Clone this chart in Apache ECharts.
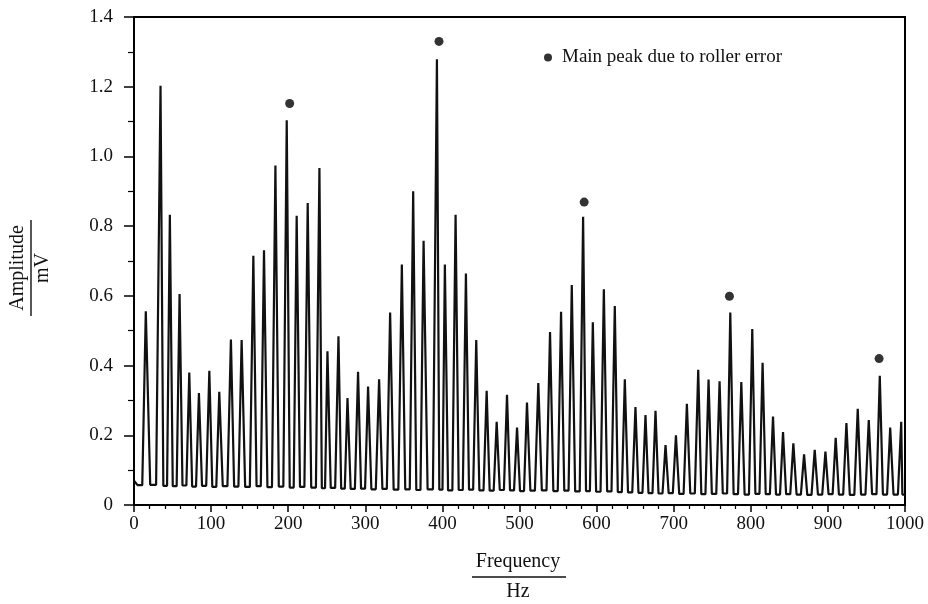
<!DOCTYPE html>
<html>
<head>
<meta charset="utf-8">
<title>Amplitude spectrum</title>
<script src="https://cdn.jsdelivr.net/npm/echarts@6/dist/echarts.min.js"></script>
<style>
  html, body { margin: 0; padding: 0; background: #fff; }
  #chart { width: 928px; height: 604px; }
</style>
</head>
<body>
<div id="chart"></div>
<script>
// Spectral peaks: frequency (Hz) and amplitude (mV)
const peakFreq = [15.3, 34.4, 46.5, 59.1, 71.7, 84.2, 97.7, 110.6, 125.7, 139.6,
  154.8, 168.6, 183.4, 198.1, 211.0, 225.3, 240.5, 250.9, 265.2, 276.9,
  290.6, 303.6, 317.9, 332.2, 347.4, 362.1, 375.6, 392.9, 403.2, 417.1,
  430.5, 443.9, 457.4, 470.4, 483.8, 496.8, 509.7, 524.4, 539.6, 553.9,
  567.8, 582.5, 595.1, 609.4, 623.6, 636.6, 650.4, 663.4, 676.4, 689.4,
  702.9, 717.1, 731.8, 745.2, 759.5, 773.4, 787.7, 801.9, 815.3, 828.8,
  841.8, 855.2, 869.1, 882.9, 896.8, 910.1, 924.0, 938.7, 953.0, 967.3,
  980.8, 995.1];
const peakAmp = [0.556, 1.203, 0.833, 0.605, 0.380, 0.321, 0.385, 0.325, 0.475, 0.473,
  0.715, 0.731, 0.974, 1.104, 0.830, 0.866, 0.967, 0.441, 0.484, 0.307,
  0.382, 0.340, 0.361, 0.552, 0.690, 0.900, 0.758, 1.279, 0.690, 0.833,
  0.664, 0.473, 0.328, 0.239, 0.316, 0.222, 0.294, 0.350, 0.496, 0.554,
  0.631, 0.827, 0.524, 0.619, 0.571, 0.361, 0.281, 0.258, 0.270, 0.172,
  0.200, 0.290, 0.388, 0.360, 0.355, 0.552, 0.353, 0.505, 0.408, 0.254,
  0.209, 0.177, 0.145, 0.158, 0.153, 0.193, 0.235, 0.276, 0.244, 0.371,
  0.222, 0.239];
// Floor level in each gap: before the first peak, between peaks, after the last one
const troughLevel = [0.057,
  0.058, 0.055, 0.054, 0.056, 0.053, 0.055, 0.052, 0.054, 0.053, 0.052,
  0.054, 0.051, 0.053, 0.050, 0.052, 0.050, 0.048, 0.049, 0.047, 0.046,
  0.047, 0.045, 0.046, 0.044, 0.045, 0.043, 0.045, 0.044, 0.042, 0.043,
  0.044, 0.042, 0.041, 0.043, 0.042, 0.040, 0.041, 0.042, 0.040, 0.041,
  0.039, 0.040, 0.038, 0.039, 0.037, 0.036, 0.035, 0.034, 0.033, 0.034,
  0.032, 0.033, 0.031, 0.032, 0.033, 0.031, 0.030, 0.032, 0.031, 0.030,
  0.031, 0.030, 0.029, 0.030, 0.031, 0.030, 0.029, 0.030, 0.031, 0.030,
  0.030,
  0.030];
// Signal level at 0 Hz and at 1000 Hz
const edgeLevel = [0.070, 0.030];

// Markers for the main peaks caused by the roller error
const rollerFreq = [201.9, 395.6, 583.9, 772.3, 966.4];
const rollerAmp = [1.152, 1.330, 0.869, 0.599, 0.420];

const legendName = 'Main peak due to roller error';
const serif = '"Liberation Serif", "Times New Roman", serif';

// Assemble the trace: each gap gets a flat floor, each peak a single vertex
const bounds = [0].concat(peakFreq, [1000]);
const spectrum = [[0, edgeLevel[0]]];
for (let i = 0; i < bounds.length - 1; i++) {
  const a = bounds[i], b = bounds[i + 1], g = b - a;
  spectrum.push([a + 0.3 * g, troughLevel[i]], [b - 0.3 * g, troughLevel[i]]);
  if (i < peakFreq.length) spectrum.push([peakFreq[i], peakAmp[i]]);
}
spectrum.push([1000, edgeLevel[1]]);

const markers = rollerFreq.map((f, i) => [f, rollerAmp[i]]);

const chart = echarts.init(document.getElementById('chart'), null, { renderer: 'canvas' });

const option = {
  animation: false,
  backgroundColor: '#fff',
  grid: {
    left: 134, right: 23, top: 17, bottom: 99,
    show: true, borderColor: '#000', borderWidth: 2, backgroundColor: 'transparent'
  },
  legend: {
    left: 544, top: 48,
    itemWidth: 8, itemHeight: 8,
    padding: 0,
    data: [{ name: legendName, icon: 'circle' }],
    textStyle: { fontFamily: serif, fontSize: 19, color: '#111', padding: [0, 0, 0, 5] }
  },
  xAxis: {
    type: 'value', min: 0, max: 1000, interval: 100,
    axisLine: { show: true, lineStyle: { color: '#000', width: 2 } },
    axisTick: { show: true, inside: false, length: 7, lineStyle: { color: '#000', width: 1.5 } },
    minorTick: { show: true, splitNumber: 5, length: 4, lineStyle: { color: '#000', width: 1.2 } },
    splitLine: { show: false },
    axisLabel: { fontFamily: serif, fontSize: 19, color: '#111', margin: 10, formatter: v => String(v) }
  },
  yAxis: {
    type: 'value', min: 0, max: 1.4, interval: 0.2,
    axisLine: { show: true, lineStyle: { color: '#000', width: 2 } },
    axisTick: { show: true, inside: false, length: 10, lineStyle: { color: '#000', width: 1.5 } },
    minorTick: { show: true, splitNumber: 2, length: 6, lineStyle: { color: '#000', width: 1.2 } },
    splitLine: { show: false },
    axisLabel: {
      fontFamily: serif, fontSize: 19, color: '#111', margin: 21,
      formatter: v => (v === 0 ? '0' : v.toFixed(1))
    }
  },
  series: [
    {
      name: 'Spectrum',
      type: 'line',
      data: spectrum,
      symbol: 'none',
      lineStyle: { color: '#111', width: 2.2 },
      clip: true,
      z: 2
    },
    {
      name: legendName,
      type: 'scatter',
      data: markers,
      symbol: 'circle',
      symbolSize: 9,
      itemStyle: { color: '#000' },
      z: 3
    }
  ],
  graphic: [
    // x-axis title as a fraction: Frequency / Hz
    { type: 'text', x: 518, y: 562, style: { text: 'Frequency', font: '20px ' + serif, fill: '#111', align: 'center', verticalAlign: 'middle' } },
    { type: 'line', shape: { x1: 472, y1: 577, x2: 566, y2: 577 }, style: { stroke: '#111', lineWidth: 1.4 } },
    { type: 'text', x: 518, y: 592, style: { text: 'Hz', font: '20px ' + serif, fill: '#111', align: 'center', verticalAlign: 'middle' } },
    // y-axis title as a fraction: Amplitude / mV
    { type: 'text', x: 18, y: 268, rotation: Math.PI / 2, style: { text: 'Amplitude', font: '20px ' + serif, fill: '#111', align: 'center', verticalAlign: 'middle' } },
    { type: 'line', shape: { x1: 31, y1: 220, x2: 31, y2: 316 }, style: { stroke: '#111', lineWidth: 1.4 } },
    { type: 'text', x: 43, y: 268, rotation: Math.PI / 2, style: { text: 'mV', font: '20px ' + serif, fill: '#111', align: 'center', verticalAlign: 'middle' } }
  ]
};

chart.setOption(option);
</script>
</body>
</html>
